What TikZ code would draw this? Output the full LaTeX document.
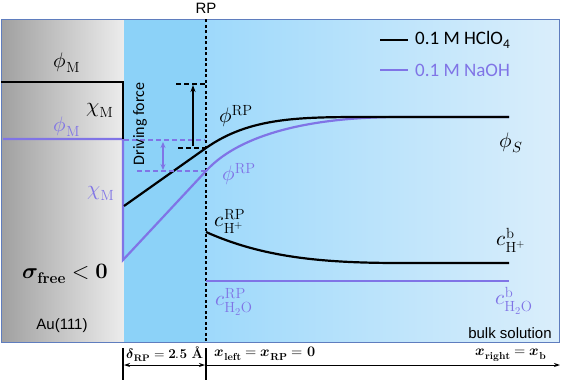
\documentclass[tikz,border=0pt]{standalone}
\usepackage{fontspec}
\usepackage{amsmath}
\usepackage{unicode-math}
\setmathfont{Latin Modern Math}
\newfontfamily\arialf{Liberation Sans}
\newfontfamily\calibf{Carlito}
\usetikzlibrary{arrows.meta}
\definecolor{purp}{RGB}{128,116,230}
\definecolor{frameblue}{RGB}{95,125,190}
\definecolor{bluedark}{RGB}{140,210,248}
\definecolor{bluemid}{RGB}{158,217,251}
\definecolor{bluelight}{RGB}{218,238,251}
\definecolor{grayd}{RGB}{160,160,160}
\definecolor{grayl}{RGB}{236,236,236}
\tikzset{
  blkline/.style={line width=2.2pt,black},
  prpline/.style={line width=2.2pt,purp},
  blkdash/.style={line width=1.4pt,black,dash pattern=on 5pt off 3pt},
  prpdash/.style={line width=1.4pt,purp,dash pattern=on 5pt off 3pt},
  lbl/.style={inner sep=0pt,font=\fontsize{21}{24}\selectfont},
  lblp/.style={lbl,text=purp},
  sanslbl/.style={inner sep=0pt,font=\arialf\fontsize{15}{18}\selectfont},
  leglbl/.style={inner sep=0pt,anchor=west,font=\calibf\fontsize{19}{22}\selectfont},
  axlbl/.style={inner sep=0pt,font=\fontsize{14.5}{17}\selectfont},
}
\begin{document}
\begin{tikzpicture}[x=1pt,y=-1pt]
\useasboundingbox (0,0) rectangle (561,380);
% backgrounds
\shade[left color=grayd,right color=grayl] (1,19) rectangle (123.5,342);
\fill[bluedark] (123.5,19) rectangle (206,342);
\shade[left color=bluemid,right color=bluelight] (206,19) rectangle (559,342);
\draw[frameblue,line width=1pt] (1,19) rectangle (559,342);
% coordinates
\coordinate (RPtop) at (206,19);
\coordinate (RPbot) at (206,342);
\coordinate (pm0) at (3,139);
\coordinate (pm1) at (123,139);
\coordinate (pm2) at (123,260);
\coordinate (prp) at (206,171);
\coordinate (pend) at (509,117);
\coordinate (bm0) at (1,82);
\coordinate (bm1) at (123,82);
\coordinate (bm2) at (123,139);
\coordinate (bs0) at (124,206);
\coordinate (brp) at (206,148);
\coordinate (bend) at (509,117);
\coordinate (cb0) at (206,232);
\coordinate (cb1) at (509,263);
\coordinate (cp0) at (206,281);
\coordinate (cp1) at (509,281);
% RP line
\draw[black,line width=1.2pt,dash pattern=on 3pt off 2.5pt] (RPtop) -- (RPbot);
\node[sanslbl] (rp) at (206,8) {RP};
% potential curves
\draw[prpline] (pm0) -- (pm1) -- (pm2) -- (prp) .. controls (236,138) and (300,117) .. (400,117) -- (pend);
\draw[blkline] (bm0) -- (bm1) -- (bm2);
\draw[blkline] (bs0) -- (brp) .. controls (250,117) and (300,117) .. (370,117) -- (bend);
% concentration
\draw[blkline] (cb0) .. controls (262,257) and (320,263) .. (400,263) -- (cb1);
\draw[prpline] (cp0) -- (cp1);
% driving force
\coordinate (d1a) at (176,84); \coordinate (d1b) at (205,84);
\coordinate (d2a) at (178,148); \coordinate (d2b) at (205,148);
\coordinate (d3a) at (124,140); \coordinate (d3b) at (205,140);
\coordinate (d4a) at (137,171); \coordinate (d4b) at (205,171);
\draw[prpdash] (d3a) -- (d3b);
\draw[prpdash] (d4a) -- (d4b);
\draw[blkdash] (d1a) -- (d1b);
\draw[blkdash] (d2a) -- (d2b);
\coordinate (ar1a) at (193,146); \coordinate (ar1b) at (193,85);
\draw[black,line width=1.4pt,-{Stealth[length=7pt,width=5pt]}] (ar1a) -- (ar1b);
\coordinate (ar2a) at (163,142); \coordinate (ar2b) at (163,170);
\draw[purp,line width=1.4pt,{Stealth[length=6pt,width=5pt]}-{Stealth[length=6pt,width=5pt]}] (ar2a) -- (ar2b);
\node[inner sep=0pt,rotate=90,font=\calibf\fontsize{16}{19}\selectfont] (df) at (140,124) {Driving force};
% legend
\coordinate (lg1a) at (380,40); \coordinate (lg1b) at (408,40);
\coordinate (lg2a) at (380,70); \coordinate (lg2b) at (408,70);
\draw[blkline,line width=2.6pt] (lg1a) -- (lg1b);
\draw[prpline,line width=2.6pt] (lg2a) -- (lg2b);
\node[leglbl] (lgt1) at (415,40) {0.1 M HClO\textsubscript{4}};
\node[leglbl,text=purp] (lgt2) at (415,70) {0.1 M NaOH};
% labels
\node[lbl] (phiMk) at (67,63) {$\phi_{\mathrm{M}}$};
\node[lbl] (chiMk) at (100,110) {$\chi_{\mathrm{M}}$};
\node[lblp] (phiMp) at (67,127) {$\phi_{\mathrm{M}}$};
\node[lblp] (chiMp) at (101,193) {$\chi_{\mathrm{M}}$};
\node[lbl] (phiRPk) at (236,116) {$\phi^{\mathrm{RP}}$};
\node[lblp] (phiRPp) at (239,174) {$\phi^{\mathrm{RP}}$};
\node[lbl] (phiS) at (511,143) {$\phi_{S}$};
\node[lbl] (cRPh) at (230,221) {$c^{\mathrm{RP}}_{\mathrm{H^+}}$};
\node[lblp] (cRPw) at (234,302) {$c^{\mathrm{RP}}_{\mathrm{H_2O}}$};
\node[lbl] (cbh) at (511,240) {$c^{\mathrm{b}}_{\mathrm{H^+}}$};
\node[lblp] (cbw) at (514,301) {$c^{\mathrm{b}}_{\mathrm{H_2O}}$};
\node[inner sep=0pt,font=\fontsize{22}{25}\selectfont] (sig) at (65,274) {$\symbfit{\sigma}_{\mathbf{free}}<\mathbf{0}$};
\node[sanslbl] (au) at (62,326) {Au(111)};
\node[sanslbl] (bulk) at (510,333) {bulk solution};
% bottom axis
\coordinate (b1a) at (123,348); \coordinate (b1b) at (123,380);
\coordinate (b2a) at (206,348); \coordinate (b2b) at (206,380);
\draw[black,line width=1.2pt] (b1a) -- (b1b);
\draw[black,line width=1.2pt] (b2a) -- (b2b);
\coordinate (da) at (124,365); \coordinate (db) at (205,365);
\draw[black,line width=0.9pt,{Stealth[length=6pt,width=4pt]}-{Stealth[length=6pt,width=4pt]}] (da) -- (db);
\coordinate (xa) at (206,365); \coordinate (xb) at (560,365);
\draw[black,line width=0.9pt,-{Stealth[length=6pt,width=4pt]}] (xa) -- (xb);
\node[axlbl,font=\fontsize{13.5}{16}\selectfont] (delta) at (165,354) {$\symbfit{\delta}_{\mathbf{RP}}=\mathbf{2.5\ \text{\bfseries Å}}$};
\node[axlbl] (xleft) at (265,354) {$\symbfit{x}_{\mathbf{left}}=\symbfit{x}_{\mathbf{RP}}=\mathbf{0}$};
\node[axlbl] (xright) at (511,355) {$\symbfit{x}_{\mathbf{right}}=\symbfit{x}_{\mathbf{b}}$};
\end{tikzpicture}
\end{document}
